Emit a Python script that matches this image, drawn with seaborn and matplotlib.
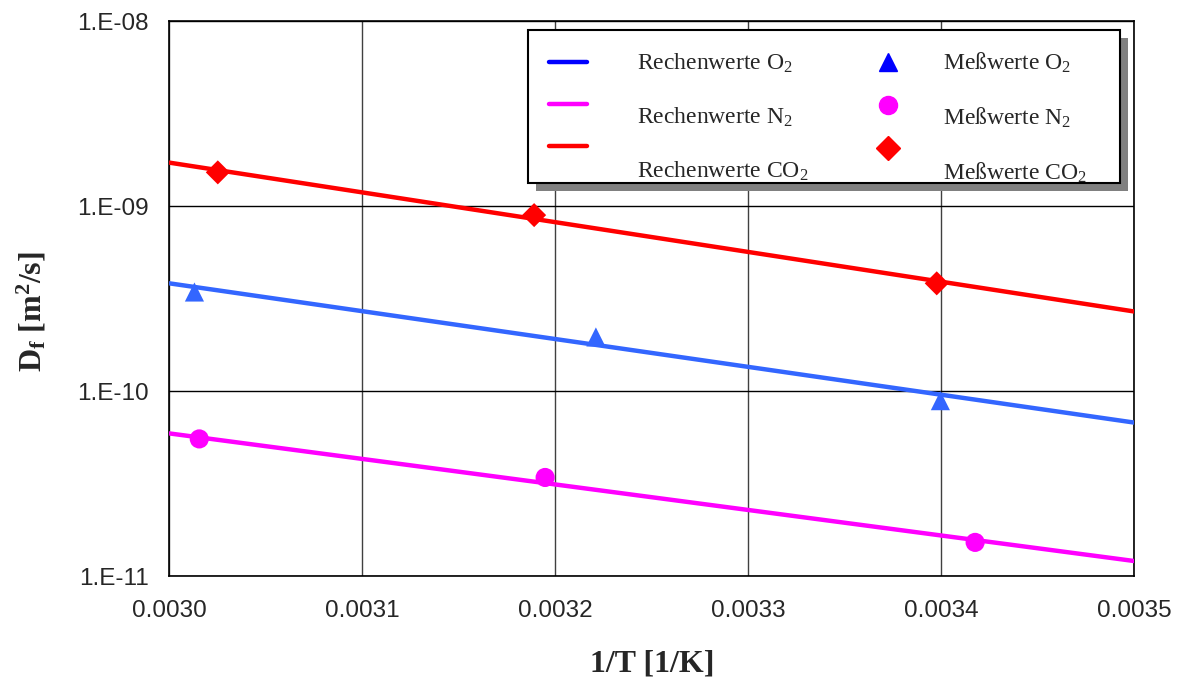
import numpy as np
import pandas as pd
import matplotlib
matplotlib.use('Agg')
import matplotlib.pyplot as plt
import seaborn as sns
from matplotlib.lines import Line2D
from matplotlib.patches import Rectangle
from matplotlib.ticker import FuncFormatter, FixedLocator

# calculated lines (Rechenwerte), endpoints at 1/T = 0.0030 and 0.0035
calc_x = [0.0030, 0.0035]
calc_o2 = [3.82e-10, 6.75e-11]
calc_n2 = [5.90e-11, 1.205e-11]
calc_co2 = [1.716e-9, 2.69e-10]

# measured values (Messwerte)
meas_o2_x = [0.003013, 0.003221, 0.0033995]
meas_o2_y = [3.43e-10, 1.96e-10, 8.87e-11]
meas_n2_x = [0.0030155, 0.0031947, 0.0034175]
meas_n2_y = [5.51e-11, 3.41e-11, 1.52e-11]
meas_co2_x = [0.0030251, 0.003189, 0.0033976]
meas_co2_y = [1.52e-9, 8.93e-10, 3.82e-10]

x_ticks = [0.0030, 0.0031, 0.0032, 0.0033, 0.0034, 0.0035]
y_ticks = [1e-11, 1e-10, 1e-9, 1e-8]

col_o2 = '#3366FF'
col_n2 = '#FF00FF'
col_co2 = '#FF0000'

sns.set_style('white')
plt.rcParams['font.family'] = ['Liberation Sans', 'DejaVu Sans']
plt.rcParams['mathtext.fontset'] = 'custom'
plt.rcParams['mathtext.rm'] = 'Liberation Serif'
plt.rcParams['mathtext.bf'] = 'Liberation Serif:bold'
plt.rcParams['mathtext.it'] = 'Liberation Serif:italic'

calc_df = pd.DataFrame({
    'x': calc_x * 3,
    'y': calc_o2 + calc_n2 + calc_co2,
    'gas': ['O2'] * 2 + ['N2'] * 2 + ['CO2'] * 2,
})

fig = plt.figure(figsize=(11.81, 6.80), dpi=100)
ax = fig.add_axes([0.1434, 0.1529, 0.8171, 0.8162])

sns.lineplot(data=calc_df, x='x', y='y', hue='gas',
             palette={'O2': col_o2, 'N2': col_n2, 'CO2': col_co2},
             linewidth=3.2, legend=False, ax=ax, zorder=3)
sns.scatterplot(x=meas_o2_x, y=meas_o2_y, marker='^', color=col_o2, s=190,
                edgecolor='none', ax=ax, zorder=4)
sns.scatterplot(x=meas_n2_x, y=meas_n2_y, marker='o', color=col_n2, s=190,
                edgecolor='none', ax=ax, zorder=4)
sns.scatterplot(x=meas_co2_x, y=meas_co2_y, marker='D', color=col_co2, s=150,
                edgecolor='none', ax=ax, zorder=4)

ax.set_yscale('log')
ax.set_ylim(1e-11, 1e-8)
ax.set_xlim(0.0030, 0.0035)
ax.set_xticks(x_ticks)
ax.xaxis.set_major_formatter(FuncFormatter(lambda v, _: f'{v:.4f}'))
ax.yaxis.set_major_locator(FixedLocator(y_ticks))
ax.yaxis.set_minor_locator(plt.NullLocator())
ax.yaxis.set_major_formatter(FuncFormatter(lambda v, _: '1.E%03d' % int(round(np.log10(v)))))
ax.grid(True, axis='y', color='black', linewidth=1)
ax.grid(True, axis='x', color='#404040', linewidth=1)
for sp in ax.spines.values():
    sp.set_color('black')
    sp.set_linewidth(1.2)
ax.tick_params(axis='both', labelsize=17.5, length=5, direction='out', color='black')
ax.tick_params(axis='x', pad=12)
ax.tick_params(axis='y', pad=10)

ax.set_xlabel('1/T [1/K]', fontsize=23, fontweight='bold', family='Liberation Serif', labelpad=20)
ax.set_ylabel(r'D$_\mathbf{f}$ [m$^\mathbf{2}$/s]', fontsize=23, fontweight='bold',
              family='Liberation Serif')
ax.yaxis.set_label_coords(-0.125, 0.476)

# legend in the style of the original (two columns, lines then markers)
handles = [
    Line2D([], [], color='#0000FF', linewidth=3.2),
    Line2D([], [], color=col_n2, linewidth=3.2),
    Line2D([], [], color=col_co2, linewidth=3.2),
    Line2D([], [], color='#0000FF', marker='^', linestyle='none', markersize=13),
    Line2D([], [], color=col_n2, marker='o', linestyle='none', markersize=13),
    Line2D([], [], color=col_co2, marker='D', linestyle='none', markersize=12),
]
labels = ['Rechenwerte O$_2$', 'Rechenwerte N$_2$', 'Rechenwerte CO$_2$',
          'Meßwerte O$_2$', 'Meßwerte N$_2$', 'Meßwerte CO$_2$']
leg = ax.legend(handles, labels, ncol=2, loc='upper right',
                bbox_to_anchor=(0.985, 0.984), frameon=True, fancybox=False,
                framealpha=1, facecolor='white',
                prop={'family': 'Liberation Serif', 'size': 17},
                handlelength=1.6, handletextpad=2.0, columnspacing=2.7,
                labelspacing=0.8, borderpad=0.9, borderaxespad=0)
leg.get_frame().set_edgecolor('black')
leg.get_frame().set_linewidth(1.5)
leg.set_zorder(10)

# the labels of the lower rows sit a bit below their symbols in the original
for i, dx, dy in [(0, 3, 0), (1, 3, -11), (2, 3, -23),
                  (3, -12, 0), (4, -12, -11), (5, -12, -23)]:
    leg.get_texts()[i].set_position((dx, dy))

# grey drop shadow behind the legend box
fig.canvas.draw()
bb = leg.get_window_extent()
shadow = Rectangle((bb.x0 + 8, bb.y0 - 8), bb.width, bb.height,
                   transform=None, facecolor='#808080', edgecolor='none', zorder=9)
ax.add_artist(shadow)

fig.savefig('out.png', dpi=100)
